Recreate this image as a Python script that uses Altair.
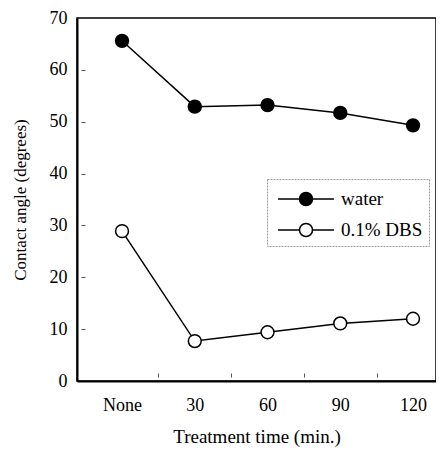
import altair as alt
import pandas as pd

categories = ["None", "30", "60", "90", "120"]
water = [65.6, 52.9, 53.2, 51.7, 49.3]
dbs = [28.9, 7.7, 9.4, 11.1, 12.0]
series_names = ["water", "0.1% DBS"]

rows = []
for i, c in enumerate(categories):
    rows.append({"xi": i, "cat": c, "series": series_names[0], "angle": water[i]})
    rows.append({"xi": i, "cat": c, "series": series_names[1], "angle": dbs[i]})
df = pd.DataFrame(rows)

FONT = "Liberation Serif"
W, H = 359, 363
TICK = 4

label_expr = "[" + ",".join(f"'{c}'" for c in categories) + "][datum.value]"

xscale = alt.Scale(domain=[-0.619, 4.316], nice=False, zero=False)
yscale = alt.Scale(domain=[0, 70], nice=False)
color_scale = alt.Scale(domain=series_names, range=["black", "white"])

legend_path = ("M-2.15,0H-0.5M0.5,0H2.15"
               "M-0.5,0A0.5,0.5,0,1,1,0.5,0A0.5,0.5,0,1,1,-0.5,0Z")

base = alt.Chart(df)

lines = base.mark_line(color="black", strokeWidth=1.5).encode(
    x=alt.X("xi:Q", scale=xscale,
            axis=alt.Axis(values=[0, 1, 2, 3, 4], labelExpr=label_expr, ticks=False,
                          grid=False, title="Treatment time (min.)", labelPadding=15,
                          titlePadding=13, titleFontSize=19,
                          domainColor="black", domainWidth=2)),
    y=alt.Y("angle:Q", scale=yscale,
            axis=alt.Axis(values=list(range(0, 80, 10)), ticks=False, grid=False,
                          title="Contact angle (degrees)", labelPadding=10,
                          titlePadding=20, titleFontSize=17,
                          domainColor="black", domainWidth=2)),
    detail="series:N",
)

points = base.mark_point(shape="circle", size=165, filled=True, stroke="black",
                         strokeWidth=1.5, opacity=1).encode(
    x=alt.X("xi:Q", scale=xscale, axis=None),
    y=alt.Y("angle:Q", scale=yscale, axis=None),
    fill=alt.Fill("series:N", scale=color_scale, sort=series_names,
                  legend=alt.Legend(title=None, orient="none", legendX=190, legendY=161,
                                    symbolType=legend_path, symbolSize=676,
                                    symbolStrokeColor="black", symbolStrokeWidth=1.5,
                                    labelOffset=21, symbolOffset=19, padding=6,
                                    rowPadding=7, strokeColor="#9a9a9a",
                                    labelExpr="datum.label + '\u2002'",
                                    labelFont=FONT, labelFontSize=19,
                                    labelColor="black")),
)

ticks_layer = base.mark_point(opacity=0).encode(
    x=alt.X("xi:Q", scale=xscale,
            axis=alt.Axis(orient="top", offset=-(H - TICK), values=[0.5, 1.5, 2.5, 3.5],
                          labels=False, domain=False, ticks=True, tickSize=TICK,
                          tickColor="#555555", grid=False, title=None)),
    y=alt.Y("angle:Q", scale=yscale,
            axis=alt.Axis(orient="right", offset=-(W - TICK), values=list(range(10, 70, 10)),
                          labels=False, domain=False, ticks=True, tickSize=TICK,
                          tickColor="#555555", grid=False, title=None)),
)

chart = alt.layer(lines, points, ticks_layer).resolve_axis(
    x="independent", y="independent"
).properties(
    width=W, height=H,
    background="white",
    autosize=alt.AutoSizeParams(type="none"),
    padding={"left": 69, "top": 10, "right": 0, "bottom": 71},
).configure_view(
    stroke="black", strokeWidth=1.5
).configure_axis(
    labelFont=FONT, titleFont=FONT, labelFontSize=18, titleFontSize=17,
    labelColor="black", titleColor="black", titleFontWeight="normal"
).configure_legend(
    strokeDash=[2, 1]
)

chart.save("out.html", embed_options={"renderer": "svg", "actions": False})
